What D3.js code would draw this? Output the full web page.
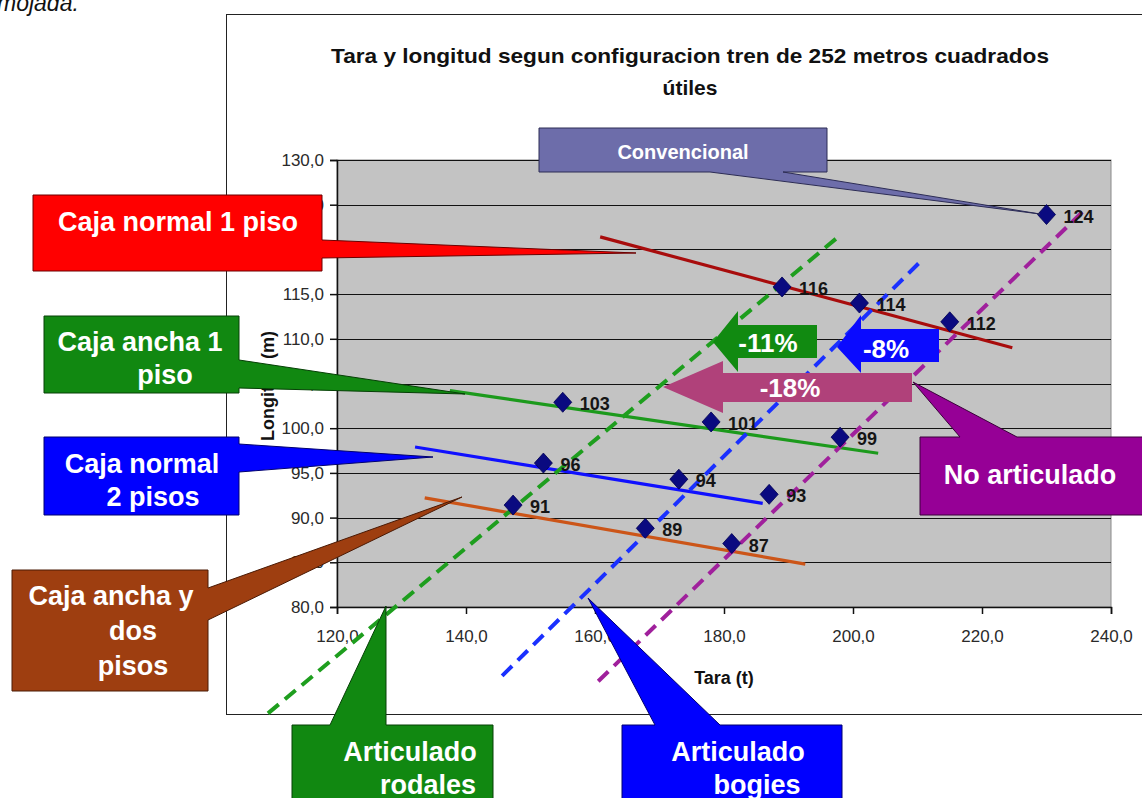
<!DOCTYPE html>
<html>
<head>
<meta charset="utf-8">
<script src="https://cdn.jsdelivr.net/npm/d3@7"></script>
<style>
html,body{margin:0;padding:0;background:#fff;}
svg{display:block;}
text{font-family:"Liberation Sans",Arial,sans-serif;}
</style>
</head>
<body>
<script>
// ---------- data ----------
const chartTitle = ["Tara y longitud segun configuracion tren de 252 metros cuadrados", "útiles"];
const xTicks = [120, 140, 160, 180, 200, 220, 240];
const yTicks = [80, 85, 90, 95, 100, 105, 110, 115, 120, 125, 130];
const tara = [230, 189, 201, 215, 155, 178, 198, 152, 173, 187, 147.3, 167.8, 181.2];
const longitud = [123.9, 115.8, 114.0, 111.9, 102.9, 100.7, 99.0, 96.1, 94.3, 92.6, 91.4, 88.8, 87.1];
const pointLabels = ["124", "116", "114", "112", "103", "101", "99", "96", "94", "93", "91", "89", "87"];

// trend lines per box type (start / end)
const trendNames = ["Caja normal 1 piso", "Caja ancha 1 piso", "Caja normal 2 pisos", "Caja ancha y dos pisos"];
const trendTara = [[160.8, 224.7], [137.5, 203.9], [132.1, 186.0], [133.6, 192.6]];
const trendLong = [[121.4, 109.0], [104.2, 97.2], [97.9, 91.6], [92.2, 84.8]];

// dashed lines per articulation type (start / end)
const dashNames = ["Articulado rodales", "Articulado bogies", "No articulado"];
const dashTara = [[109.3, 197.7], [145.6, 210.4], [160.5, 236.3]];
const dashLong = [[68.1, 121.4], [72.3, 118.6], [71.7, 124.7]];

const arrowLabels = ["-18%", "-11%", "-8%"];

// ---------- setup ----------
const W = 1142, H = 798;
const svg = d3.select("body").append("svg").attr("width", W).attr("height", H);
svg.append("rect").attr("width", W).attr("height", H).attr("fill", "#fff");

const FONT = '"Liberation Sans",Arial,sans-serif';
const plot = {left: 337, right: 1111, top: 160, bottom: 607};
const x = d3.scaleLinear().domain([120, 240]).range([plot.left, plot.right]);
const y = d3.scaleLinear().domain([80, 130]).range([plot.bottom, plot.top]);
const fmt = v => d3.format(".1f")(v).replace(".", ",");

// document text above chart
svg.append("text").attr("x", -3).attr("y", 11).attr("font-size", 23).attr("font-style", "italic")
  .attr("fill", "#111").text("mojada.");

// chart frame
svg.append("rect").attr("x", 226.5).attr("y", 14.5).attr("width", 1000).attr("height", 700)
  .attr("fill", "#fff").attr("stroke", "#222").attr("stroke-width", 1);

// title
svg.append("text").attr("x", 690).attr("y", 63).attr("text-anchor", "middle")
  .attr("font-size", 21).attr("font-weight", "bold").attr("fill", "#111")
  .attr("textLength", 718).attr("lengthAdjust", "spacingAndGlyphs").text(chartTitle[0]);
svg.append("text").attr("x", 690).attr("y", 95).attr("text-anchor", "middle")
  .attr("font-size", 21).attr("font-weight", "bold").attr("fill", "#111").text(chartTitle[1]);

// plot area
svg.append("rect").attr("x", plot.left).attr("y", plot.top)
  .attr("width", plot.right - plot.left).attr("height", plot.bottom - plot.top)
  .attr("fill", "#c3c3c3").attr("stroke", "#8a8a8a").attr("stroke-width", 1);

// gridlines
svg.append("g").selectAll("line").data(yTicks).join("line")
  .attr("x1", plot.left).attr("x2", plot.right)
  .attr("y1", d => Math.round(y(d)) + 0.5).attr("y2", d => Math.round(y(d)) + 0.5)
  .attr("stroke", "#111").attr("stroke-width", 1);

// axes
const yAxis = svg.append("g").attr("transform", `translate(${plot.left},0)`)
  .call(d3.axisLeft(y).tickValues(yTicks).tickFormat(fmt).tickSize(7).tickPadding(6));
const xAxis = svg.append("g").attr("transform", `translate(0,${plot.bottom})`)
  .call(d3.axisBottom(x).tickValues(xTicks).tickFormat(fmt).tickSize(7).tickPadding(16));
[yAxis, xAxis].forEach(a => {
  a.select(".domain").attr("stroke", "#111").attr("stroke-width", 1.5);
  a.selectAll(".tick line").attr("stroke", "#111").attr("stroke-width", 1.5);
  a.selectAll("text").attr("font-size", 17).attr("font-family", FONT).attr("fill", "#2a2a2a");
});

// axis titles
svg.append("text").attr("transform", "translate(274,386) rotate(-90)").attr("text-anchor", "middle")
  .attr("font-size", 18).attr("font-weight", "bold").attr("fill", "#111").text("Longitud (m)");
svg.append("text").attr("x", 724).attr("y", 684).attr("text-anchor", "middle")
  .attr("font-size", 18).attr("font-weight", "bold").attr("fill", "#111").text("Tara (t)");

// trend lines
const trendColors = ["#a80c0c", "#1c9a1c", "#1010ff", "#cc5518"];
svg.append("g").selectAll("line").data(trendNames).join("line")
  .attr("x1", (d, i) => x(trendTara[i][0])).attr("y1", (d, i) => y(trendLong[i][0]))
  .attr("x2", (d, i) => x(trendTara[i][1])).attr("y2", (d, i) => y(trendLong[i][1]))
  .attr("stroke", (d, i) => trendColors[i]).attr("stroke-width", 3.2);

// dashed lines
const dashColors = ["#1e9e1e", "#1a30ff", "#a0209c"];
svg.append("g").selectAll("line").data(dashNames).join("line")
  .attr("x1", (d, i) => x(dashTara[i][0])).attr("y1", (d, i) => y(dashLong[i][0]))
  .attr("x2", (d, i) => x(dashTara[i][1])).attr("y2", (d, i) => y(dashLong[i][1]))
  .attr("stroke", (d, i) => dashColors[i]).attr("stroke-width", 4)
  .attr("stroke-dasharray", "14,8");

// points
const pts = tara.map((t, i) => ({t, l: longitud[i], lab: pointLabels[i]}));
svg.append("g").selectAll("path").data(pts).join("path")
  .attr("transform", d => `translate(${x(d.t)},${y(d.l)})`)
  .attr("d", "M0,-10L9,0L0,10L-9,0Z").attr("fill", "#0a0a80").attr("stroke", "#000050").attr("stroke-width", 0.8);
svg.append("g").selectAll("text").data(pts).join("text")
  .attr("x", d => x(d.t) + 17).attr("y", d => y(d.l) + 8)
  .attr("font-size", 18).attr("font-weight", "bold").attr("fill", "#151515").text(d => d.lab);

// block arrows (left pointing)
function arrowPath(a) {
  return `M${a.tip[0]},${a.tip[1]}L${a.hx},${a.htop}L${a.hx},${a.btop}L${a.rx},${a.btop}` +
         `L${a.rx},${a.bbot}L${a.hx},${a.bbot}L${a.hx},${a.hbot}Z`;
}
const arrows = [
  {tip: [663, 387], hx: 723, htop: 361, hbot: 413, btop: 373, bbot: 402, rx: 912, fill: "#b0417a", tx: 790, ty: 388},
  {tip: [713, 342], hx: 738, htop: 311, hbot: 372, btop: 325, bbot: 358, rx: 817, fill: "#118a11", tx: 768, ty: 343},
  {tip: [837, 347], hx: 861, htop: 315, hbot: 373, btop: 329, bbot: 362, rx: 939, fill: "#0a0aff", tx: 886, ty: 349}
];
arrows.forEach((a, i) => {
  svg.append("path").attr("d", arrowPath(a)).attr("fill", a.fill);
  svg.append("text").attr("x", a.tx).attr("y", a.ty + 9).attr("text-anchor", "middle")
    .attr("font-size", 26).attr("font-weight", "bold").attr("fill", "#fff").text(arrowLabels[i]);
});

// callouts
function calloutPath(b) {
  const L = b.x, R = b.x + b.w, T = b.y, B = b.y + b.h;
  const [p1, p2] = b.base, [tx, ty] = b.tip;
  if (b.side === "right")
    return `M${L},${T}L${R},${T}L${R},${p1}L${tx},${ty}L${R},${p2}L${R},${B}L${L},${B}Z`;
  if (b.side === "top")
    return `M${L},${T}L${p1},${T}L${tx},${ty}L${p2},${T}L${R},${T}L${R},${B}L${L},${B}Z`;
  // bottom
  return `M${L},${T}L${R},${T}L${R},${B}L${p2},${B}L${tx},${ty}L${p1},${B}L${L},${B}Z`;
}
const callouts = [
  {x: 539, y: 128, w: 288, h: 44, side: "bottom", base: [710, 783], tip: [1040, 214], fill: "#6d6daa", stroke: "#2c2c55",
   lines: [["Convencional", 683, 159]], size: 20},
  {x: 33, y: 195, w: 289, h: 76, side: "right", base: [240, 258], tip: [636, 253], fill: "#ff0000", stroke: "#6a0000",
   lines: [["Caja normal 1 piso", 178, 231]], size: 27},
  {x: 44, y: 316, w: 195, h: 77, side: "right", base: [360, 388], tip: [465, 394], fill: "#118811", stroke: "#064006",
   lines: [["Caja ancha 1", 140, 351], ["piso", 165, 384]], size: 27},
  {x: 44, y: 437, w: 195, h: 78, side: "right", base: [444, 472], tip: [433, 457], fill: "#0000ff", stroke: "#000070",
   lines: [["Caja normal", 142, 473], ["2 pisos", 153, 506]], size: 27},
  {x: 12, y: 570, w: 196, h: 121, side: "right", base: [588, 620], tip: [462, 497], fill: "#9e3e10", stroke: "#4a1a05",
   lines: [["Caja ancha y", 111, 605], ["dos", 133, 640], ["pisos", 133, 675]], size: 27},
  {x: 292, y: 725, w: 201, h: 90, side: "top", base: [330, 386], tip: [386, 606], fill: "#118811", stroke: "#064006",
   lines: [["Articulado", 410, 761], ["rodales", 428, 794]], size: 27},
  {x: 622, y: 725, w: 220, h: 90, side: "top", base: [655, 720], tip: [588, 598], fill: "#0000ff", stroke: "#000070",
   lines: [["Articulado", 738, 761], ["bogies", 757, 794]], size: 27},
  {x: 920, y: 437, w: 240, h: 78, side: "top", base: [960, 1017], tip: [913, 382], fill: "#960096", stroke: "#3a003a",
   lines: [["No articulado", 1030, 484]], size: 27}
];
callouts.forEach(c => {
  svg.append("path").attr("d", calloutPath(c)).attr("fill", c.fill)
    .attr("stroke", c.stroke).attr("stroke-width", 1).attr("stroke-linejoin", "miter");
  c.lines.forEach(([t, tx, ty]) => {
    svg.append("text").attr("x", tx).attr("y", ty).attr("text-anchor", "middle")
      .attr("font-size", c.size).attr("font-weight", "bold").attr("fill", "#fff").text(t);
  });
});
</script>
</body>
</html>
